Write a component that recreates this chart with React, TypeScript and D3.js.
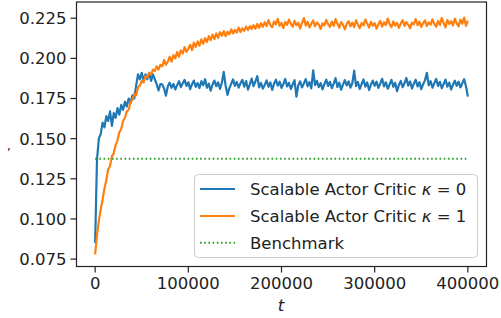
import React from "react";
import * as d3 from "d3";

const tStep = 2000;

const blueValues: number[] = [
  0.085, 0.137, 0.150, 0.153, 0.160, 0.157, 0.164, 0.161, 0.167, 0.158,
  0.166, 0.163, 0.169, 0.165, 0.171, 0.168, 0.173, 0.170, 0.175, 0.172,
  0.177, 0.175, 0.183, 0.190, 0.187, 0.191, 0.186, 0.190, 0.187, 0.191,
  0.186, 0.190, 0.187, 0.184, 0.180, 0.184,
  0.1838, 0.1812, 0.1768, 0.1826, 0.1849, 0.1817, 0.1841, 0.1806, 0.1833, 0.1858,
  0.1821, 0.1845, 0.1866, 0.1828, 0.1851, 0.1808, 0.1839, 0.1862, 0.1822, 0.1846,
  0.1815, 0.1858, 0.1833, 0.1870, 0.1817, 0.1843, 0.1799, 0.1836, 0.1862, 0.1826,
  0.1851, 0.1810, 0.1848, 0.1916, 0.1831, 0.1773, 0.1813, 0.1841, 0.1869, 0.1829,
  0.1853, 0.1818, 0.1845, 0.1866, 0.1824, 0.1859, 0.1806, 0.1838, 0.1874, 0.1827,
  0.1856, 0.1889, 0.1820, 0.1847, 0.1811, 0.1835, 0.1863, 0.1823, 0.1850, 0.1804,
  0.1842, 0.1867, 0.1830, 0.1855, 0.1816, 0.1840, 0.1872, 0.1825, 0.1848, 0.1809,
  0.1837, 0.1864, 0.1762, 0.1832, 0.1857, 0.1819, 0.1844, 0.1871, 0.1826, 0.1852,
  0.1813, 0.1926, 0.1834, 0.1860, 0.1821, 0.1846, 0.1807, 0.1839, 0.1868, 0.1828,
  0.1854, 0.1814, 0.1843, 0.1877, 0.1822, 0.1849, 0.1805, 0.1836, 0.1865, 0.1831,
  0.1857, 0.1818, 0.1845, 0.1924, 0.1827, 0.1853, 0.1810, 0.1840, 0.1869, 0.1824,
  0.1850, 0.1803, 0.1837, 0.1862, 0.1829, 0.1855, 0.1816, 0.1843, 0.1873, 0.1826,
  0.1851, 0.1811, 0.1838, 0.1866, 0.1823, 0.1848, 0.1795, 0.1834, 0.1859, 0.1820,
  0.1845, 0.1878, 0.1830, 0.1856, 0.1812, 0.1841, 0.1867, 0.1825, 0.1852, 0.1808,
  0.1839, 0.1863, 0.1910, 0.1832, 0.1858, 0.1817, 0.1846, 0.1872, 0.1828, 0.1854,
  0.1814, 0.1840, 0.1868, 0.1824, 0.1849, 0.1806, 0.1836, 0.1861, 0.1829, 0.1855,
  0.1819, 0.1845, 0.1870, 0.1826, 0.1762,
];

const orangeValues: number[] = [
  0.078, 0.090, 0.099, 0.106, 0.112, 0.119, 0.124, 0.131, 0.133, 0.139,
  0.141, 0.146, 0.149, 0.154, 0.156, 0.161, 0.163, 0.167, 0.168, 0.173,
  0.174, 0.178, 0.177, 0.182, 0.183, 0.186, 0.185, 0.189, 0.188, 0.191,
  0.190, 0.193, 0.192, 0.195, 0.193, 0.196, 0.195, 0.199, 0.196, 0.198,
  0.201, 0.198, 0.202, 0.200, 0.204, 0.201, 0.205, 0.203, 0.207, 0.204,
  0.206, 0.2085, 0.2052, 0.2098, 0.2071, 0.2105, 0.2079, 0.2118, 0.2091, 0.2126,
  0.2102, 0.2139, 0.2113, 0.2148, 0.2120, 0.2155, 0.2128, 0.2163, 0.2141, 0.2170,
  0.2138, 0.2166, 0.2149, 0.2181, 0.2155, 0.2178, 0.2160, 0.2192, 0.2164, 0.2187,
  0.2171, 0.2198, 0.2176, 0.2201, 0.2183, 0.2207, 0.2185, 0.2214, 0.2190, 0.2219,
  0.2196,
  0.2225, 0.2201, 0.2238, 0.2209, 0.2194, 0.2230, 0.2212, 0.2246, 0.2203, 0.2221,
  0.2189, 0.2227, 0.2208, 0.2241, 0.2215, 0.2197, 0.2233, 0.2206, 0.2222, 0.2186,
  0.2219, 0.2251, 0.2204, 0.2228, 0.2193, 0.2216, 0.2236, 0.2199, 0.2224, 0.2211,
  0.2183, 0.2218, 0.2205, 0.2239, 0.2213, 0.2196, 0.2229, 0.2202, 0.2244, 0.2217,
  0.2191, 0.2226, 0.2209, 0.2181, 0.2214, 0.2232, 0.2200, 0.2223, 0.2195, 0.2237,
  0.2210, 0.2188, 0.2220, 0.2206, 0.2242, 0.2215, 0.2192, 0.2227, 0.2203, 0.2219,
  0.2185, 0.2211, 0.2234, 0.2198, 0.2225, 0.2207, 0.2248, 0.2213, 0.2194, 0.2230,
  0.2204, 0.2221, 0.2190, 0.2217, 0.2238, 0.2202, 0.2226, 0.2209, 0.2187, 0.2222,
  0.2212, 0.2245, 0.2206, 0.2229, 0.2196, 0.2218, 0.2236, 0.2201, 0.2224, 0.2210,
  0.2243, 0.2215, 0.2197, 0.2233, 0.2208, 0.2252, 0.2220, 0.2193, 0.2239, 0.2214,
  0.2231, 0.2205, 0.2247, 0.2218, 0.2199, 0.2241, 0.2216, 0.2254, 0.2203, 0.2235,
];

const benchmarkValue = 0.1375;
const benchmarkRange = [0, 400000];

const xTicks = [0, 100000, 200000, 300000, 400000];
const yTicks = [0.075, 0.1, 0.125, 0.15, 0.175, 0.2, 0.225];

const legendLabels = ["Scalable Actor Critic ", "Scalable Actor Critic ", "Benchmark"];
const legendKappa = ["0", "1"];

const W = 501;
const H = 318;
const left = 76.5, right = 486.5, top = 2, bottom = 266.5;
const FONT = "'DejaVu Sans', sans-serif";
const FS = 16.5;

export default function App() {
  const x = d3.scaleLinear().domain([-20000, 420000]).range([left, right]);
  const y = d3.scaleLinear().domain([0.0704, 0.2351]).range([bottom, top]);
  const line = d3
    .line<number>()
    .x((_, i) => x(i * tStep))
    .y((d) => y(d));

  const legendRows = [189, 216, 242.7];

  return (
    <svg
      width={W}
      height={H}
      style={{ position: "absolute", left: 0, top: 0, background: "#fff" }}
      fontFamily={FONT}
    >
      <defs>
        <clipPath id="plotclip">
          <rect x={left} y={top} width={right - left} height={bottom - top} />
        </clipPath>
      </defs>
      <rect x={0} y={0} width={W} height={H} fill="#fff" />
      <g clipPath="url(#plotclip)">
        <path d={line(blueValues) || ""} fill="none" stroke="#1f77b4" strokeWidth={2.2} strokeLinejoin="round" />
        <path d={line(orangeValues) || ""} fill="none" stroke="#ff7f0e" strokeWidth={2.2} strokeLinejoin="round" />
        <line
          x1={x(benchmarkRange[0])}
          x2={x(benchmarkRange[1])}
          y1={y(benchmarkValue)}
          y2={y(benchmarkValue)}
          stroke="#2ca02c"
          strokeWidth={2}
          strokeDasharray="1.6 2.6"
        />
      </g>
      <rect x={left} y={top} width={right - left} height={bottom - top} fill="none" stroke="#222" strokeWidth={1.2} />
      {xTicks.map((t) => (
        <g key={"x" + t}>
          <line x1={x(t)} x2={x(t)} y1={bottom} y2={bottom + 6} stroke="#222" strokeWidth={1.2} />
          <text x={x(t)} y={bottom + 22.5} textAnchor="middle" fontSize={FS} fill="#222">
            {String(t)}
          </text>
        </g>
      ))}
      {yTicks.map((t) => (
        <g key={"y" + t}>
          <line x1={left - 6} x2={left} y1={y(t)} y2={y(t)} stroke="#222" strokeWidth={1.2} />
          <text x={left - 10} y={y(t)} dy="0.36em" textAnchor="end" fontSize={FS} fill="#222">
            {d3.format(".3f")(t)}
          </text>
        </g>
      ))}
      <text x={(left + right) / 2 - 0.5} y={311} textAnchor="middle" fontSize={FS} fontStyle="italic" fill="#222">
        t
      </text>
      <text x={9} y={150} textAnchor="middle" fontSize={12} fill="#222">
        ,
      </text>
      <rect x={194.5} y={174.5} width={283} height={83} rx={4} fill="#fff" fillOpacity={0.8} stroke="#ccc" strokeWidth={1} />
      <line x1={200} x2={235} y1={legendRows[0]} y2={legendRows[0]} stroke="#1f77b4" strokeWidth={2.2} />
      <line x1={200} x2={235} y1={legendRows[1]} y2={legendRows[1]} stroke="#ff7f0e" strokeWidth={2.2} />
      <line x1={200} x2={235} y1={legendRows[2]} y2={legendRows[2]} stroke="#2ca02c" strokeWidth={2} strokeDasharray="1.6 2.6" />
      {[0, 1].map((i) => (
        <text key={"l" + i} x={250} y={legendRows[i]} dy="0.36em" fontSize={FS} fill="#222">
          {legendLabels[i]}
          <tspan fontStyle="italic">κ</tspan>
          {" = " + legendKappa[i]}
        </text>
      ))}
      <text x={250} y={legendRows[2]} dy="0.36em" fontSize={FS} fill="#222">
        {legendLabels[2]}
      </text>
    </svg>
  );
}
